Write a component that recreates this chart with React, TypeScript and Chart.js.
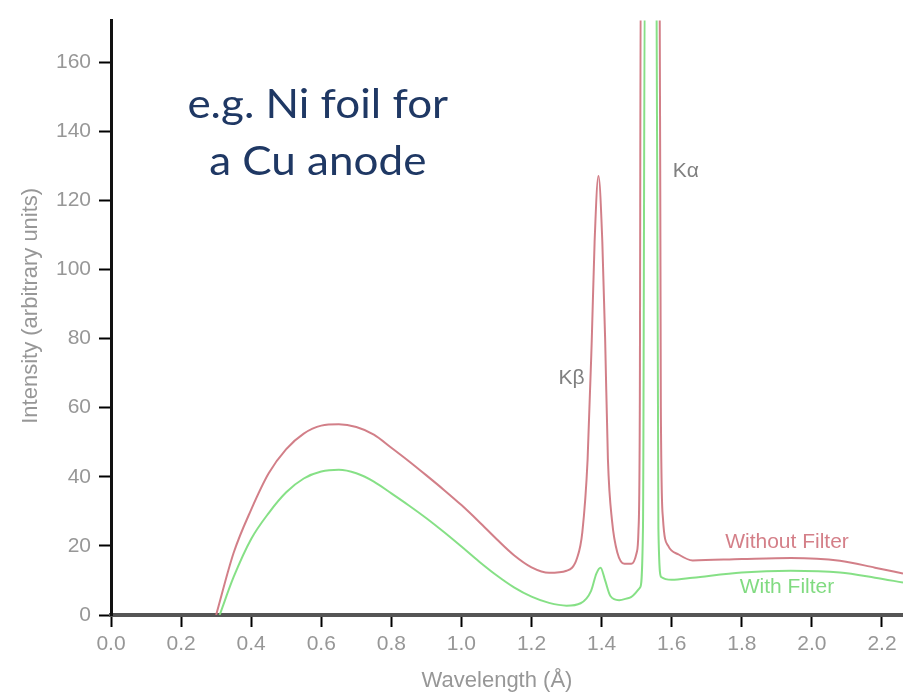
import { useEffect, useRef } from "react";
import { Chart, registerables } from "chart.js";

Chart.register(...registerables);

// Wavelength (Å) and intensity (arbitrary units)
const withoutFilterWavelength = [
  0.3, 0.35, 0.4, 0.45, 0.5, 0.55, 0.6, 0.65, 0.7, 0.75, 0.8, 0.85, 0.9, 0.95, 1.0,
  1.05, 1.1, 1.15, 1.2, 1.25, 1.3, 1.33, 1.345, 1.36, 1.372, 1.38, 1.391, 1.402, 1.41,
  1.418, 1.43, 1.445, 1.465, 1.485, 1.5, 1.505, 1.509, 1.512, 1.565, 1.569, 1.575,
  1.59, 1.62, 1.66, 1.8, 1.94, 2.08, 2.18, 2.26,
];
const withoutFilterIntensity = [
  0, 18, 30.5, 41, 48, 52.5, 54.8, 55.2, 54.4, 52.2, 48.4, 44.5, 40.4, 36.2, 31.8,
  27, 22, 17.3, 13.8, 12.2, 12.8, 16.5, 24, 45, 80, 108, 127, 108, 80,
  45, 27, 18, 14.8, 14.8, 18, 24, 60, 200, 200, 60, 28,
  20, 17.5, 15.8, 16.2, 16.5, 15.7, 13.7, 12,
];

const withFilterWavelength = [
  0.31, 0.35, 0.4, 0.45, 0.5, 0.55, 0.6, 0.65, 0.7, 0.75, 0.8, 0.85, 0.9, 0.95, 1.0,
  1.05, 1.1, 1.15, 1.2, 1.25, 1.3, 1.34, 1.37, 1.385, 1.397, 1.41, 1.425, 1.45, 1.48,
  1.51, 1.518, 1.524, 1.556, 1.562, 1.57, 1.6, 1.66, 1.8, 1.94, 2.08, 2.18, 2.26,
];
const withFilterIntensity = [
  0, 11, 22, 29.5, 35.5, 39.5, 41.5, 42, 41, 38.6, 35.2, 31.7, 28, 24, 19.8,
  15.5, 11.5, 8, 5.3, 3.5, 2.7, 3.4, 7, 12, 13.7, 10, 5.5, 4.3, 5,
  8, 25, 200, 200, 25, 11, 10.2, 10.8, 12.3, 12.8, 12.3, 10.8, 9.4,
];

const xTickValues = [0, 0.2, 0.4, 0.6, 0.8, 1.0, 1.2, 1.4, 1.6, 1.8, 2.0, 2.2];
const yTickValues = [0, 20, 40, 60, 80, 100, 120, 140, 160];

const seriesNames = ["Without Filter", "With Filter"];
const xTitle = "Wavelength (Å)";
const yTitle = "Intensity (arbitrary units)";
const noteLines = ["e.g. Ni foil for", "a Cu anode"];

const RED = "rgba(208,120,130,0.95)";
const GREEN = "rgba(128,222,128,0.95)";
const GREY = "#979797";
const TICK_FONT = "'Liberation Sans', Arial, sans-serif";

type Label = { text: string; x: number; y: number; color: string; font: string };

const labels: Label[] = [
  { text: "Kβ", x: 1.314, y: 68.4, color: "#808080", font: `21px ${TICK_FONT}` },
  { text: "Kα", x: 1.64, y: 128.5, color: "#808080", font: `21px ${TICK_FONT}` },
  { text: seriesNames[0], x: 1.929, y: 21, color: "rgba(205,105,115,0.85)", font: `21px ${TICK_FONT}` },
  { text: seriesNames[1], x: 1.929, y: 8, color: "rgba(115,215,115,0.9)", font: `21px ${TICK_FONT}` },
];

const labelPlugin = {
  id: "labels",
  afterDraw(chart: any) {
    const { ctx, scales, chartArea } = chart;
    const xs = scales.x;
    const ys = scales.y;
    ctx.save();
    ctx.textBaseline = "middle";
    ctx.textAlign = "center";
    for (const l of labels) {
      ctx.font = l.font;
      ctx.fillStyle = l.color;
      ctx.fillText(l.text, xs.getPixelForValue(l.x), ys.getPixelForValue(l.y));
    }
    // axis titles
    ctx.font = `22px ${TICK_FONT}`;
    ctx.fillStyle = GREY;
    ctx.fillText(xTitle, (chartArea.left + chartArea.right) / 2 - 10, chartArea.bottom + 66);
    ctx.save();
    ctx.translate(31, (chartArea.top + chartArea.bottom) / 2 - 12);
    ctx.rotate(-Math.PI / 2);
    ctx.fillText(yTitle, 0, 0);
    ctx.restore();
    // note
    ctx.font = "40px Lato, 'Open Sans', sans-serif";
    ctx.fillStyle = "#1F3864";
    ctx.textBaseline = "alphabetic";
    const noteY = [143.9, 127.4];
    noteLines.forEach((line, i) => {
      ctx.save();
      ctx.translate(xs.getPixelForValue(0.59), ys.getPixelForValue(noteY[i]));
      ctx.scale(1.1, 1);
      ctx.fillText(line, 0, 0);
      ctx.restore();
    });
    ctx.restore();
  },
};

export default function App() {
  const ref = useRef<HTMLCanvasElement | null>(null);
  useEffect(() => {
    if (!ref.current) return;
    const toPoints = (xs: number[], ys: number[]) => xs.map((x, i) => ({ x, y: ys[i] }));
    const gridOpts = {
      display: true,
      drawOnChartArea: false,
      drawTicks: true,
      tickLength: 12,
      tickColor: "#000",
      tickWidth: 2,
    };
    const chart = new Chart(ref.current, {
      type: "line",
      data: {
        datasets: [
          {
            label: seriesNames[1],
            data: toPoints(withFilterWavelength, withFilterIntensity),
            borderColor: GREEN,
            borderWidth: 2,
            pointRadius: 0,
            fill: false,
            cubicInterpolationMode: "monotone",
          },
          {
            label: seriesNames[0],
            data: toPoints(withoutFilterWavelength, withoutFilterIntensity),
            borderColor: RED,
            borderWidth: 2,
            pointRadius: 0,
            fill: false,
            cubicInterpolationMode: "monotone",
          },
        ],
      },
      options: {
        animation: false,
        responsive: false,
        devicePixelRatio: 1,
        layout: { padding: { top: 10, left: 0, right: 0, bottom: 0 } },
        plugins: { legend: { display: false }, tooltip: { enabled: false } },
        scales: {
          x: {
            type: "linear",
            min: 0,
            max: 2.26,
            afterBuildTicks: (s: any) => {
              s.ticks = xTickValues.map((v) => ({ value: v }));
            },
            afterFit: (s: any) => {
              s.height = 80;
            },
            ticks: {
              color: GREY,
              font: { family: TICK_FONT, size: 21 },
              padding: 5,
              maxRotation: 0,
              autoSkip: false,
              callback: (v: any) => Number(v).toFixed(1),
            },
            grid: gridOpts,
            border: { display: true, color: "#555", width: 4 },
            title: { display: false, text: xTitle },
          },
          y: {
            type: "linear",
            min: 0,
            max: 172,
            afterBuildTicks: (s: any) => {
              s.ticks = yTickValues.map((v) => ({ value: v }));
            },
            afterFit: (s: any) => {
              s.width = 111;
            },
            ticks: {
              color: GREY,
              font: { family: TICK_FONT, size: 21 },
              padding: 8,
              autoSkip: false,
              callback: (v: any) => String(v),
            },
            grid: gridOpts,
            border: { display: true, color: "#111", width: 3 },
            title: { display: false, text: yTitle },
          },
        },
      },
      plugins: [labelPlugin],
    });
    return () => chart.destroy();
  }, []);
  return (
    <div style={{ position: "fixed", left: 0, top: 0, width: 903, height: 695, background: "#fff" }}>
      <canvas ref={ref} width={903} height={695} style={{ width: 903, height: 695, display: "block" }} />
    </div>
  );
}
